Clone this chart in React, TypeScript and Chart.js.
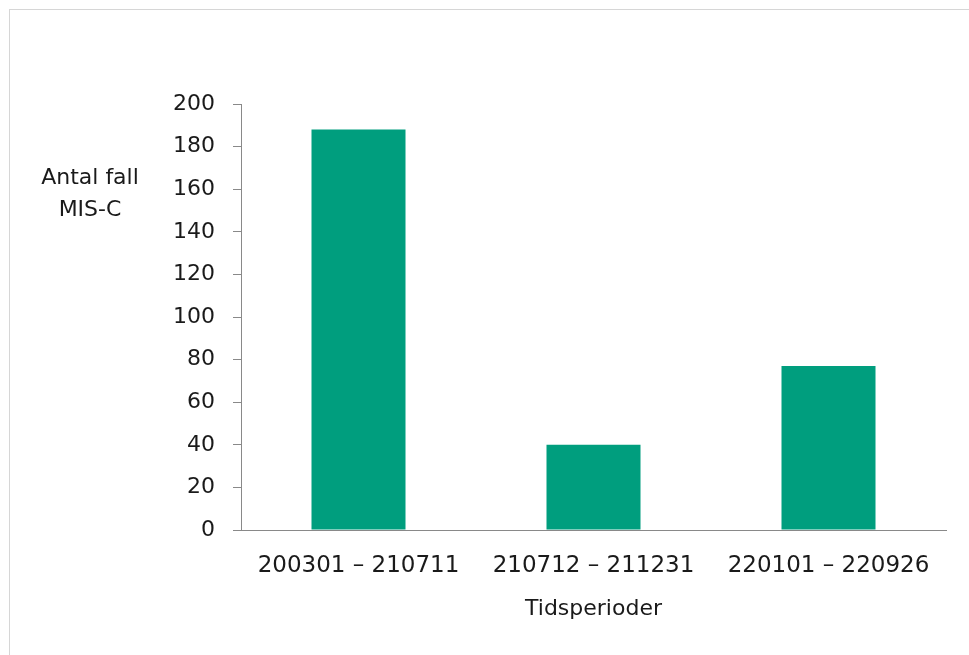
import React, { useEffect, useRef } from "react";
import { Chart, registerables } from "chart.js";

Chart.register(...registerables);

const categories = ["200301 – 210711", "210712 – 211231", "220101 – 220926"];
const cases = [188, 40, 77];
const yTitleLines = ["Antal fall", "MIS-C"];
const xTitle = "Tidsperioder";
const yMin = 0;
const yMax = 200;
const yStep = 20;

const FONT = "'DejaVu Sans', Verdana, sans-serif";
const TEXT = "#1a1a1a";
const AXIS = "#898989";

const yTitlePlugin = {
  id: "yTitleHorizontal",
  afterDraw(chart: any) {
    const { ctx, chartArea } = chart;
    ctx.save();
    ctx.font = `22px ${FONT}`;
    ctx.fillStyle = TEXT;
    ctx.textAlign = "center";
    ctx.textBaseline = "middle";
    const x = chartArea.left - 151;
    const y0 = chartArea.top + 74;
    yTitleLines.forEach((line, i) => ctx.fillText(line, x, y0 + i * 32));
    ctx.restore();
  },
};

export default function App() {
  const ref = useRef<HTMLCanvasElement>(null);
  useEffect(() => {
    if (!ref.current) return;
    const chart = new Chart(ref.current, {
      type: "bar",
      data: {
        labels: categories,
        datasets: [
          {
            data: cases,
            backgroundColor: "#009E7E",
            borderWidth: 0,
            barPercentage: 0.4,
            categoryPercentage: 1,
          },
        ],
      },
      options: {
        animation: false,
        responsive: false,
        maintainAspectRatio: false,
        layout: { padding: { top: 104, right: 23, bottom: 33, left: 0 } },
        plugins: { legend: { display: false }, tooltip: { enabled: false } },
        scales: {
          x: {
            grid: { display: false },
            border: { display: true, color: AXIS, width: 1 },
            ticks: { color: TEXT, font: { family: FONT, size: 23 }, padding: 14, maxRotation: 0 },
            title: {
              display: true,
              text: xTitle,
              color: TEXT,
              font: { family: FONT, size: 22 },
              padding: { top: 2, bottom: 0 },
            },
          },
          y: {
            min: yMin,
            max: yMax,
            afterFit: (scale: any) => {
              scale.width = 241;
            },
            grid: { drawOnChartArea: false, tickLength: 8, color: AXIS },
            border: { display: true, color: AXIS, width: 1 },
            ticks: { stepSize: yStep, color: TEXT, font: { family: FONT, size: 22 }, padding: 18 },
          },
        },
      },
      plugins: [yTitlePlugin],
    });
    return () => chart.destroy();
  }, []);

  return (
    <div style={{ position: "fixed", left: 0, top: 0, width: 969, height: 655, overflow: "hidden", background: "#fff" }}>
      <div
        style={{
          position: "absolute",
          left: 9,
          top: 9,
          width: 1000,
          height: 700,
          border: "1px solid #d6d6d6",
        }}
      />
      <canvas ref={ref} width={969} height={655} style={{ position: "absolute", left: 0, top: 0, width: 969, height: 655 }} />
    </div>
  );
}
